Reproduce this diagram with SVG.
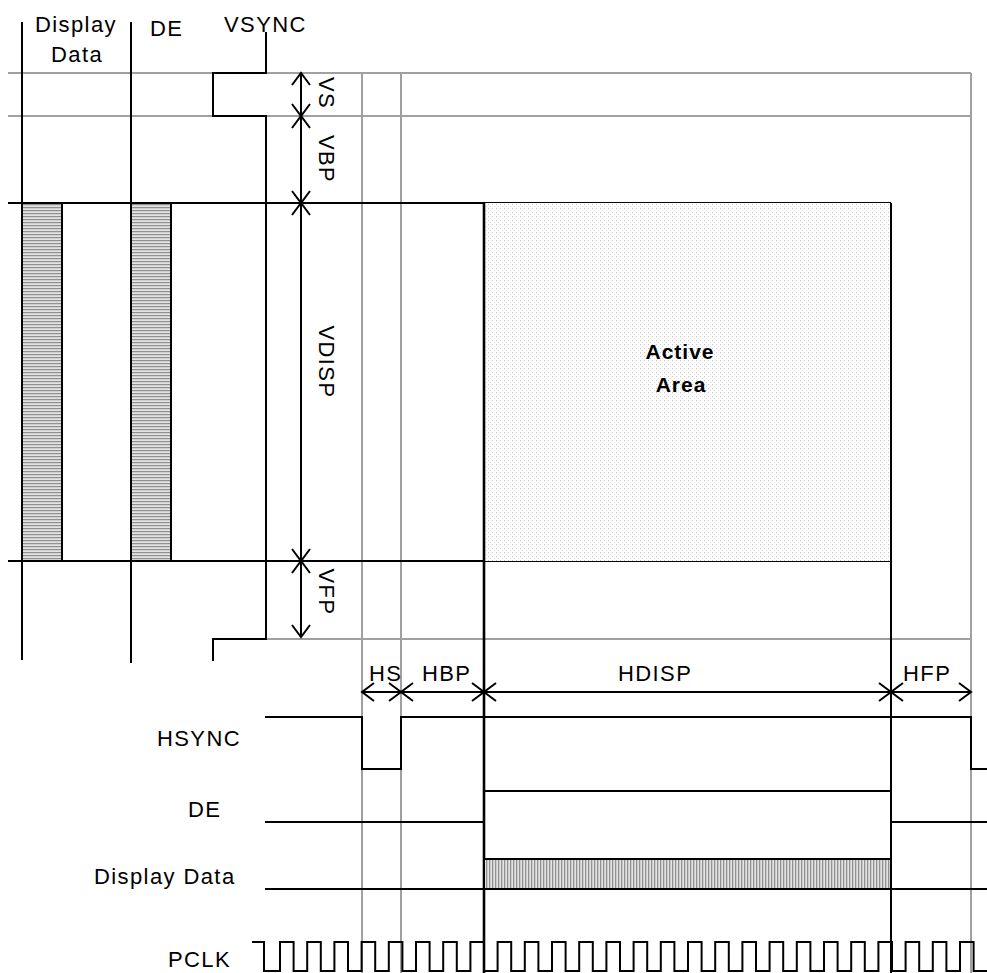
<svg xmlns="http://www.w3.org/2000/svg" width="987" height="973" viewBox="0 0 987 973">
<style>
text{font-family:"Liberation Sans",Arial,sans-serif;font-size:22px;letter-spacing:1.4px;fill:#000}
.b{font-weight:bold;font-size:21px;letter-spacing:1px}
.g{stroke:#a0a0a0;stroke-width:2;fill:none}
.k{stroke:#000;stroke-width:2;fill:none}
.kk{stroke:#000;stroke-width:2.6;fill:none}
.dim{stroke:#000;stroke-width:2;fill:none;marker-start:url(#ah);marker-end:url(#ah)}
</style>
<defs>
<marker id="ah" markerUnits="userSpaceOnUse" markerWidth="26" markerHeight="26" viewBox="-13 -13 26 26" refX="0" refY="0" orient="auto-start-reverse">
<path d="M-12,-9 L0,0 L-12,9" fill="none" stroke="#000" stroke-width="2"/>
</marker>
<pattern id="hl" width="4" height="3" patternUnits="userSpaceOnUse"><rect width="4" height="3" fill="#e2e2e2"/><rect width="4" height="1.2" fill="#909090"/></pattern>
<pattern id="vl" width="3" height="4" patternUnits="userSpaceOnUse"><rect width="3" height="4" fill="#e2e2e2"/><rect width="1.3" height="4" fill="#929292"/></pattern>
<pattern id="dt" width="4" height="4" patternUnits="userSpaceOnUse"><rect width="4" height="4" fill="#fff"/><rect width="1" height="1" fill="#c4c4c4"/><rect x="2" y="2" width="1" height="1" fill="#dadada"/></pattern>
</defs>
<rect width="987" height="973" fill="#fff"/>

<g id="grid">
<path class="g" d="M8,73 H971 M8,116 H971 M266,639 H971 M362,73 V973 M401,73 V973 M971,73 V973"/>
<path class="k" d="M8,203 H891 M8,561 H891"/>
</g>

<g id="active-area">
<rect x="484" y="203" width="407" height="358" fill="url(#dt)"/>
<path class="kk" d="M484,203 V973"/>
<path class="k" d="M891,203 V973"/>
<text class="b" x="680" y="359" text-anchor="middle">Active</text>
<text class="b" x="681" y="392" text-anchor="middle">Area</text>
</g>

<g id="v-display-data">
<rect x="22" y="203" width="40" height="358" fill="url(#hl)" stroke="#000" stroke-width="2"/>
<path class="k" d="M22,22 V660"/>
<text x="35" y="32">Display</text>
<text x="51" y="62">Data</text>
</g>

<g id="v-de">
<rect x="131" y="203" width="40" height="358" fill="url(#hl)" stroke="#000" stroke-width="2"/>
<path class="k" d="M131,22 V663"/>
<text x="150" y="36">DE</text>
</g>

<g id="v-vsync">
<path class="k" d="M266,32 V73 H213 V116 H266 V639 H213 V661"/>
<text x="224" y="32">VSYNC</text>
</g>

<g id="h-hsync">
<path class="k" d="M265,717 H362 V769 H401 V717 H971 V769 H987"/>
<text x="157" y="746">HSYNC</text>
</g>

<g id="h-de">
<path class="k" d="M265,822 H484 V791 H891 V822 H987"/>
<text x="188" y="817">DE</text>
</g>

<g id="h-display-data">
<rect x="484" y="859" width="407" height="30" fill="url(#vl)" stroke="#000" stroke-width="2"/>
<path class="k" d="M265,889 H987"/>
<text x="94" y="884">Display Data</text>
</g>

<g id="pclk">
<path class="k" d="M252,942 H264 V971 H280 V942 H293.6 V971 H307.2 V942 H320.8 V971 H334.4 V942 H348 V971 H361.6 V942 H375.2 V971 H388.8 V942 H402.4 V971 H416 V942 H429.6 V971 H443.2 V942 H456.8 V971 H470.4 V942 H484 V971 H497.6 V942 H511.2 V971 H524.8 V942 H538.4 V971 H552 V942 H565.6 V971 H579.2 V942 H592.8 V971 H606.4 V942 H620 V971 H633.6 V942 H647.2 V971 H660.8 V942 H674.4 V971 H688 V942 H701.6 V971 H715.2 V942 H728.8 V971 H742.4 V942 H756 V971 H769.6 V942 H783.2 V971 H796.8 V942 H810.4 V971 H824 V942 H837.6 V971 H851.2 V942 H864.8 V971 H878.4 V942 H892 V971 H905.6 V942 H919.2 V971 H932.8 V942 H946.4 V971 H960 V942 H973.6 V971 H987"/>
<text x="168" y="967">PCLK</text>
</g>

<g id="connectors">
<line class="dim" x1="301" y1="73" x2="301" y2="116"/>
<line class="dim" x1="301" y1="116" x2="301" y2="203"/>
<line class="dim" x1="301" y1="203" x2="301" y2="561"/>
<line class="dim" x1="301" y1="561" x2="301" y2="637"/>
<line class="dim" x1="362" y1="692" x2="401" y2="692"/>
<line class="dim" x1="401" y1="692" x2="484" y2="692"/>
<line class="dim" x1="484" y1="692" x2="891" y2="692"/>
<line class="dim" x1="891" y1="692" x2="971" y2="692"/>
</g>

<g id="labels">
<text transform="translate(319,93) rotate(90)" text-anchor="middle">VS</text>
<text transform="translate(319,159) rotate(90)" text-anchor="middle">VBP</text>
<text transform="translate(319,362) rotate(90)" text-anchor="middle">VDISP</text>
<text transform="translate(319,592) rotate(90)" text-anchor="middle">VFP</text>
<text x="369" y="681">HS</text>
<text x="422" y="681">HBP</text>
<text x="618" y="681">HDISP</text>
<text x="903" y="681">HFP</text>
</g>
</svg>
